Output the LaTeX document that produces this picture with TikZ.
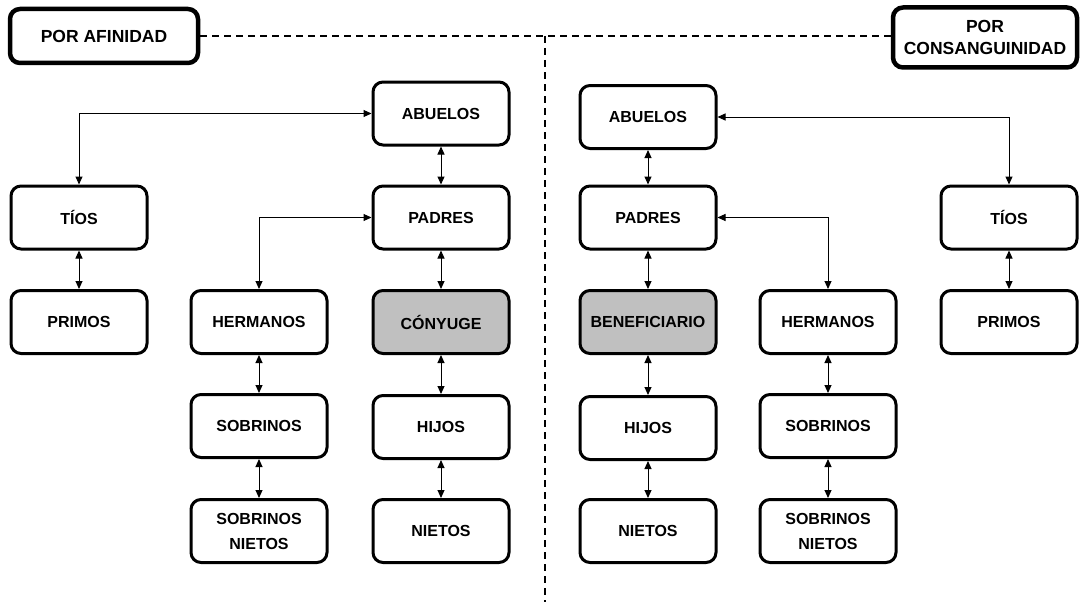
\documentclass[tikz,border=0pt]{standalone}
\usepackage{fontspec}
\setmainfont{Liberation Sans}
\usetikzlibrary{arrows.meta}
\definecolor{boxgrey}{RGB}{192,192,192}
\begin{document}
\begin{tikzpicture}[x=1pt,y=-1pt,
  kin/.style={draw, rectangle, rounded corners=10pt, line width=3pt,
    minimum width=136pt, minimum height=63pt, inner sep=0pt, align=center,
    font=\bfseries\fontsize{16}{25}\selectfont},
  ego/.style={kin, fill=boxgrey},
  hdr/.style={draw, rectangle, rounded corners=10pt, line width=4.5pt,
    inner sep=0pt, align=center, font=\bfseries\fontsize{17.5}{22}\selectfont},
  link/.style={line width=1pt, {Triangle[length=8pt,width=7pt]}-{Triangle[length=8pt,width=7pt]}},
  sep/.style={line width=1.5pt, dash pattern=on 7pt off 5pt}]
\useasboundingbox (0,0) rectangle (1081,602);
% headers
\node[hdr, minimum width=188pt, minimum height=54pt] (hL) at (104,36) {POR AFINIDAD};
\node[hdr, minimum width=184pt, minimum height=60pt] (hR) at (985,37.5) {POR\\CONSANGUINIDAD};
% left side
\node[kin] (abL)  at (441,113.5) {ABUELOS};
\node[kin] (paL)  at (441,217.5) {PADRES};
\node[ego] (coL)  at (441,322) {CÓNYUGE};
\node[kin] (hiL)  at (441,427) {HIJOS};
\node[kin] (niL)  at (441,531) {NIETOS};
\node[kin] (tiL)  at (79,217.5) {TÍOS};
\node[kin] (prL)  at (79,322) {PRIMOS};
\node[kin] (heL)  at (259,322) {HERMANOS};
\node[kin] (soL)  at (259,426) {SOBRINOS};
\node[kin] (snL)  at (259,531) {SOBRINOS\\NIETOS};
% right side
\node[kin] (abR)  at (648,117) {ABUELOS};
\node[kin] (paR)  at (648,217.5) {PADRES};
\node[ego] (beR)  at (648,322) {BENEFICIARIO};
\node[kin] (hiR)  at (648,428) {HIJOS};
\node[kin] (niR)  at (648,531) {NIETOS};
\node[kin] (heR)  at (828,322) {HERMANOS};
\node[kin] (soR)  at (828,426) {SOBRINOS};
\node[kin] (snR)  at (828,531) {SOBRINOS\\NIETOS};
\node[kin] (tiR)  at (1009,217.5) {TÍOS};
\node[kin] (prR)  at (1009,322) {PRIMOS};
% separators
\coordinate (mid) at (545,36);
\coordinate (bot) at (545,602);
\draw[sep] (hL.east) -- (hL.east -| hR.west);
\draw[sep] (mid) -- (bot);
% left connectors
\draw[link] (abL.west) -| (tiL.north);
\draw[link] (paL.west) -| (heL.north);
\draw[link] (abL.south) -- (paL.north);
\draw[link] (paL.south) -- (coL.north);
\draw[link] (coL.south) -- (hiL.north);
\draw[link] (hiL.south) -- (niL.north);
\draw[link] (tiL.south) -- (prL.north);
\draw[link] (heL.south) -- (soL.north);
\draw[link] (soL.south) -- (snL.north);
% right connectors
\draw[link] (abR.east) -| (tiR.north);
\draw[link] (paR.east) -| (heR.north);
\draw[link] (abR.south) -- (paR.north);
\draw[link] (paR.south) -- (beR.north);
\draw[link] (beR.south) -- (hiR.north);
\draw[link] (hiR.south) -- (niR.north);
\draw[link] (tiR.south) -- (prR.north);
\draw[link] (heR.south) -- (soR.north);
\draw[link] (soR.south) -- (snR.north);
\end{tikzpicture}
\end{document}
